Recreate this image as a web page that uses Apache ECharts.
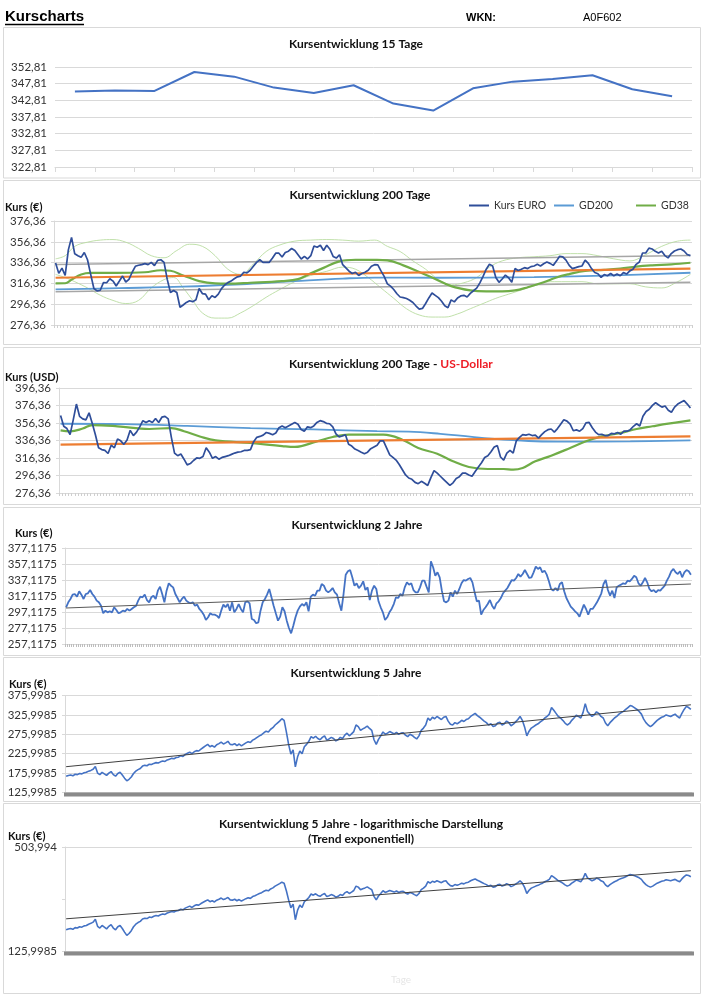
<!DOCTYPE html>
<html><head><meta charset="utf-8">
<script src="https://cdn.jsdelivr.net/npm/echarts@6.0.0/dist/echarts.min.js"></script>
<style>html,body{margin:0;padding:0;background:#fff}#c{width:706px;height:998px}</style>
</head><body><div id="c"></div>
<script>
// ---------- DATA ----------
const p1Price = [345.43,345.73,345.63,351.31,349.92,346.63,345.03,347.33,341.84,339.75,346.43,348.42,349.22,350.32,346.13,344.04];

const p2Price = [336.0,326,331,324,348.6,360.6,344.8,343,341.4,346.1,
339.1,325,311.4,309.2,309.8,317.1,317,320.8,318.6,313.9,
318.6,323.4,317.7,320.2,327.1,332.8,333.8,334.4,335.4,334.4,
336.6,333.5,338.5,339.1,336.6,320.2,307.6,309.5,307.6,293.4,
295.6,298.1,299.7,298.8,300.6,311.4,306.6,306,300.6,304.4,
302.9,306,311.4,314.8,317.1,318.6,320.8,322.7,323.4,327.1,
326.5,329,332.8,336.6,339.1,336.6,336.6,336.6,340.7,345.4,
345.4,341.7,346.1,347.3,349.9,348,343.9,339.8,342.3,339.8,
343,352.4,351.1,353,348,353,349.2,342.3,340.7,343.9,
334.4,331.3,328.1,325.9,327.1,324,325.9,327.1,329,332.8,
334.4,334.1,328.4,323.1,315.9,313.7,310.5,306.4,303.3,302.7,
301.8,300.2,298,294.6,291.7,292.3,297,302.4,307.1,304.9,
302.7,299.2,294.8,293,300.5,298.6,302.4,304.3,304.9,303.3,
306.8,309.3,311.8,316.9,323.1,330,334.7,333.1,322.1,317.4,
320.6,324.3,321.8,317.4,330.6,328.7,330,331.5,330.6,332.5,
333.1,334.7,333.1,335.3,336.9,335.6,333.7,337.8,342.5,341.9,
338.7,333.7,330.6,331.5,332.5,333.1,338.7,335.6,330.6,326.8,
325.6,322.1,324.9,323.7,325.9,323.7,325.3,323.7,326.8,325.3,
328.4,330,334.7,336.9,345.6,345.6,350.3,349.4,347.2,345.6,
347.2,343.1,340.9,345,347.5,348.8,349.4,347.5,344.1,343.1];
const p2Gd200 = [[0,310.6],[20,311.8],[40,313.2],[60,315.8],[75,318.5],[90,321],[100,322],[120,321.8],[150,322.4],[175,324],[199,326.6]];
const p2Gd38 = [[0,316.4],[3,316.5],[5,320],[8,325],[11,326.5],[19,326.5],[28,327.1],[33,329],[36,328.5],[40,324],[45,318.6],[50,316.4],[54,316.2],[61,317],[71,318.6],[76,320.5],[80,326],[84,331.3],[89,337.6],[94,339.1],[100,339],[104,338.5],[109,333.7],[114,327.4],[119,320.6],[124,313.7],[130,309.6],[135,308.6],[140,308.6],[144,309.6],[148,312.7],[153,317.4],[157,322.1],[161,325.3],[166,328.4],[172,329.4],[177,330.6],[182,332.5],[187,333.7],[193,334.7],[199,336.2]];
const p2BandUp = [[0,340],[3,343],[6,352],[10,356],[14,358],[18,358.5],[22,356],[26,350],[30,343],[34,341],[38,348],[42,354],[46,352],[50,343],[54,330],[58,325],[62,335],[66,347],[70,353],[75,357],[80,358],[85,358.5],[90,358],[95,357],[100,358],[104,352],[108,347],[112,338],[116,330],[120,320],[124,315],[128,317],[132,322],[136,332],[140,338],[145,341],[150,342],[155,343],[160,345],[165,345],[170,343],[175,340],[180,338],[185,344],[190,352],[195,357],[199,358]];
const p2BandLow = [[0,325],[3,322],[6,318],[10,312],[14,305],[18,300],[22,297],[26,300],[30,312],[34,320],[37,322],[40,312],[43,300],[46,288],[50,283],[54,283],[58,288],[62,295],[66,303],[70,310],[75,318],[80,324],[85,328],[90,332],[94,330],[98,322],[102,312],[106,302],[110,292],[114,286],[118,284],[122,284],[126,287],[130,292],[134,297],[138,302],[142,306],[146,310],[150,314],[155,318],[160,318],[165,318],[170,316],[175,316],[180,316],[185,313],[190,312],[195,318],[199,325]];
const p2TrendOrange = [[0,321.8],[199,330.6]];
const p2TrendUpper = [[0,334.5],[199,343.2]];
const p2TrendLower = [[0,308.3],[199,317.4]];

const p3Price = [365,352.6,350,343,360,378,364,361,360,368,
356,343,328,326,325,321.5,331,328,338,336,
332,337,348,342,346,352,359,357,359,357,
361.5,357,363,364,361,340,322,319,321,315,
308.5,310,313.5,316.4,316,318,328,323,316,318,
315,317,318,319,320.5,322,323,323.5,325,325,
326,335,340,341,342.5,345.5,344.5,343,345,351,
353,351,353,355,357,355,349,347,352,351,
353,357,359,358,356,355.5,352,344,340.5,341.5,
343,332,330,326.6,325,323,321.3,323,327,329,
331,336,336,328,320,317,314,309,303,297,
293.5,292,288.5,287,289.7,287.5,285,294,302,299,
295.5,292,288.5,285,288,293,295,299,299,297,
295.5,301,306,311,317,319,323.5,329,330.5,317.5,
314,322,325,322,336,340,343,342.5,343.5,342,
342.5,339,343,346.5,348.7,349.5,346,350,355,360,
358.5,355,347.5,348.5,347,350,356.5,357,351,346,
343,343.5,342,342,344.5,344,345.5,343.5,347,347,
348.7,352.6,355.5,353,364,369.5,372,376.5,379.5,377,
374.5,375.8,371,368.6,374.5,378,380,382,378,373.5];
const p3Gd200 = [[0,355.5],[20,355],[40,353],[60,350.5],[80,349],[100,347],[110,346.5],[120,344],[130,340.5],[140,337.5],[150,335.5],[160,335],[180,335.3],[199,336.5]];
const p3Gd38 = [[0,348],[3,346.8],[7,350],[10,354],[18,352.6],[28,349.5],[35,350.6],[39,347],[44,341],[49,336.5],[60,333.5],[70,330],[74,329],[81,335.4],[86,340.4],[91,343],[99,343],[102,343],[108,337.3],[113,327.8],[119,321.3],[124,312.6],[129,306.1],[135,303.8],[140,303.8],[143,303],[146,305],[150,312.6],[155,319],[161,327.8],[166,335.4],[171,341],[177,345],[182,349.5],[187,352.6],[192,355.6],[199,359.4]];
const p3TrendOrange = [[0,331.6],[199,341.1]];

const p4Price = [303.0,309.2,313.4,318.8,319.6,316.3,323.0,318.8,313.4,319.6,
320.5,324.6,319.6,316.3,311.3,309.2,305.0,295.5,298.8,296.7,
298.0,296.7,303.0,299.6,295.5,296.7,298.8,298.0,300.9,298.8,
300.9,303.0,304.6,311.3,316.3,315.5,318.8,312.1,309.2,315.5,
317.5,313.4,323.8,328.8,319.6,309.2,323.8,333.0,330.0,327.9,
319.6,314.6,309.2,313.4,316.3,311.3,309.2,308.0,309.2,305.0,
306.3,300.9,298.0,293.8,287.1,290.5,295.5,293.8,293.8,292.5,
289.6,298.8,306.3,303.0,307.1,298.8,309.2,296.7,300.9,307.1,
300.9,296.7,309.2,310.5,308.0,288.4,287.1,283.0,284.2,298.8,
309.2,313.4,318.8,325.9,315.5,305.0,295.5,286.3,291.3,303.0,
298.0,286.3,277.1,270.5,280.0,290.5,298.8,303.8,307.1,305.0,
309.2,298.0,316.3,318.8,317.5,323.8,323.8,332.1,330.0,323.8,
321.7,323.8,327.1,321.7,318.8,308.0,298.8,319.6,343.8,348.0,
349.6,340.5,330.0,333.0,327.1,330.0,335.5,324.6,327.9,312.1,
323.8,330.0,325.9,310.5,
303.0,296.7,287.1,290.5,296.7,300.9,307.1,315.5,314.6,319.6,
317.5,327.9,334.2,331.3,333.0,324.6,321.7,321.7,327.9,336.3,
336.3,328.8,321.7,360.5,353.0,342.5,346.7,340.5,323.8,310.5,
309.2,311.3,321.7,316.3,323.8,319.6,325.9,333.0,337.1,336.3,
338.4,339.6,334.2,321.7,310.5,311.3,293.8,299.6,303.0,307.1,
312.1,305.0,300.9,308.0,310.5,314.6,320.5,323.8,327.1,332.1,
337.1,336.3,339.6,344.6,341.3,344.6,349.6,344.6,339.6,340.5,
346.7,353.8,350.9,353.0,346.7,348.8,343.8,335.5,325.9,323.8,
327.1,323.8,332.1,334.2,323.0,314.6,309.2,303.8,300.9,298.0,
295.5,291.3,298.8,306.3,300.9,293.8,300.9,300.9,305.0,309.2,
314.6,320.5,332.1,337.1,324.6,317.5,323.8,314.6,327.9,330.0,
331.3,333.0,332.1,336.3,335.5,338.4,342.5,340.5,333.0,330.0,
334.2,339.6,334.2,325.9,323.0,324.6,321.7,324.6,323.8,327.1,
330.0,336.3,341.3,348.0,350.9,346.7,344.6,348.0,340.5,346.7,
349.6,348.0,343.8];
const p4TrendEnds = [302.1, 332.1];

const p5Price = [168,170,171,169,173,172,175,174,177,178,
181,183,186,193,176,172,178,174,170,176,
180,172,168,175,178,171,163,156,160,166,
175,181,185,188,194,196,195,199,198,201,
203,202,205,207,206,210,212,214,213,216,
217,221,219,224,227,230,226,231,234,233,
238,242,246,250,244,247,243,249,252,256,
251,254,258,250,249,252,247,251,246,250,
254,257,255,261,264,268,272,275,280,284,
282,289,293,300,305,310,316,312,282,250,
225,236,192,218,233,226,244,250,258,270,
266,271,265,262,268,272,261,264,268,265,
259,262,268,265,274,279,272,277,283,300,
296,286,290,293,297,291,286,262,250,263,
272,282,276,279,283,280,277,281,276,279,
280,274,270,276,273,268,264,272,286,292,
300,318,312,320,316,322,318,314,320,322,
310,302,300,306,303,307,312,309,314,316,
322,326,330,324,320,315,310,306,300,303,
296,298,305,307,300,303,310,306,298,302,
308,314,322,312,295,272,284,292,296,300,
303,308,312,318,322,328,345,338,330,322,
318,312,305,300,304,312,318,325,322,318,
332,355,335,328,322,326,334,330,322,318,
305,298,306,312,318,322,328,332,335,340,
345,350,348,344,340,335,328,315,306,300,
296,300,306,312,316,320,322,326,324,322,
325,328,322,318,330,340,348,345,340];
const p5TrendEnds = [192.5, 352];
const p6TrendEnds = [194.4, 368];

// tick values / labels
const p1Ticks = [322.81,327.81,332.81,337.81,342.81,347.81,352.81];
const p1Labels = ['322,81','327,81','332,81','337,81','342,81','347,81','352,81'];
const p2Ticks = [276.36,296.36,316.36,336.36,356.36,376.36];
const p2Labels = ['276,36','296,36','316,36','336,36','356,36','376,36'];
const p3Ticks = [276.36,296.36,316.36,336.36,356.36,376.36,396.36];
const p3Labels = ['276,36','296,36','316,36','336,36','356,36','376,36','396,36'];
const p4Ticks = [257.1175,277.1175,297.1175,317.1175,337.1175,357.1175,377.1175];
const p4Labels = ['257,1175','277,1175','297,1175','317,1175','337,1175','357,1175','377,1175'];
const p5Ticks = [125.9985,175.9985,225.9985,275.9985,325.9985,375.9985];
const p5Labels = ['125,9985','175,9985','225,9985','275,9985','325,9985','375,9985'];
const p6Ticks = [125.9985,251.997,503.994];
const p6Labels = ['125,9985','','503,994'];

const legendNames = ['Kurs EURO','GD200','GD38'];

// ---------- CHART ----------
const FONT = 'Lato, "Open Sans", sans-serif';
const ARIAL = '"Liberation Sans", Arial, sans-serif';
const GRID = '#D9D9D9';

function cats(n){ return Array.from({length:n}, (_, i) => 'T' + (i + 1)); }
function fmt(ticks, labels){
  return function(v){
    for (let j = 0; j < ticks.length; j++) { if (Math.abs(ticks[j] - v) < 0.02) return labels[j]; }
    return '';
  };
}
function ends(arr, n){ return [[0, arr[0]], [n - 1, arr[1]]]; }

const grids = [
  {left:55, width:637, top:67, height:100},
  {left:54, width:638, top:221, height:104},
  {left:59, width:633, top:388, height:105},
  {left:65, width:627, top:548, height:96},
  {left:65, width:627, top:695.5, height:97},
  {left:65, width:627, top:847, height:104.5}
];

function xAx(gi, n, tickLen, tickColor, tickW){
  return {type:'category', gridIndex:gi, data:cats(n), boundaryGap:true,
    axisLine:{show:true, lineStyle:{color:GRID, width:1}},
    axisTick:{show:true, interval:0, length:tickLen, lineStyle:{color:tickColor, width:tickW || 1}},
    axisLabel:{show:false}, splitLine:{show:false}};
}
const LBL = {color:'#333', fontFamily:FONT, fontSize:11.5, margin:8, showMinLabel:true, showMaxLabel:true};
function yAx(gi, min, max, ticks, labels, showLine){
  return {type:'value', gridIndex:gi, min:min, max:max,
    axisLine:{show:showLine, lineStyle:{color:GRID}},
    axisTick:{show:showLine, length:3, customValues:ticks, lineStyle:{color:GRID}},
    axisLabel:Object.assign({customValues:ticks, formatter:fmt(ticks, labels)}, LBL),
    splitLine:{show:true, lineStyle:{color:GRID, width:1}}};
}

const xAxes = [
  xAx(0, p1Price.length, 5, GRID),
  xAx(1, p2Price.length, 3, '#CFCFCF'),
  xAx(2, p3Price.length, 3, '#CFCFCF'),
  xAx(3, p4Price.length, 3, '#BDBDBD'),
  xAx(4, p5Price.length, 4, '#8A8A8A', 3),
  xAx(5, p5Price.length, 4, '#8A8A8A', 3)
];
const yAxes = [
  yAx(0, 322.81, 352.81, p1Ticks, p1Labels, false),
  yAx(1, 276.36, 376.36, p2Ticks, p2Labels, true),
  yAx(2, 276.36, 396.36, p3Ticks, p3Labels, true),
  yAx(3, 257.1175, 377.1175, p4Ticks, p4Labels, true),
  yAx(4, 125.9985, 375.9985, p5Ticks, p5Labels, true),
  {type:'log', logBase:2, gridIndex:5, min:125.9985, max:503.994, interval:1,
    axisLine:{show:true, lineStyle:{color:GRID}},
    axisTick:{show:true, length:3, lineStyle:{color:GRID}},
    axisLabel:Object.assign({formatter:fmt(p6Ticks, p6Labels)}, LBL),
    splitLine:{show:false}}
];

function line(gi, name, data, color, width, extra){
  return Object.assign({type:'line', name:name, xAxisIndex:gi, yAxisIndex:gi, data:data,
    symbol:'none', showSymbol:false, animation:false, silent:true,
    lineStyle:{color:color, width:width}, itemStyle:{color:color}}, extra || {});
}

const BAND = '#B9DCA0';
const series = [
  line(0, 'p1', p1Price, '#4472C4', 2),

  line(1, 'bandUp', p2BandUp, BAND, 0.9, {smooth:0.4, z:1}),
  line(1, 'bandLow', p2BandLow, BAND, 0.9, {smooth:0.4, z:1}),
  line(1, 'trendUp', p2TrendUpper, '#A6A6A6', 1.5, {z:2}),
  line(1, 'trendLow', p2TrendLower, '#A6A6A6', 1.5, {z:2}),
  line(1, 'GD200', p2Gd200, '#5B9BD5', 1.8, {smooth:0.4, z:3}),
  line(1, 'GD38', p2Gd38, '#70AD47', 2.2, {smooth:0.4, z:3}),
  line(1, 'trendOrange', p2TrendOrange, '#ED7D31', 2.2, {z:4}),
  line(1, 'Kurs EURO', p2Price, '#2F4E9A', 1.7, {z:5}),

  line(2, 'GD200 USD', p3Gd200, '#5B9BD5', 1.8, {smooth:0.4, z:3}),
  line(2, 'GD38 USD', p3Gd38, '#70AD47', 2.2, {smooth:0.4, z:3}),
  line(2, 'trendOrange USD', p3TrendOrange, '#ED7D31', 2.2, {z:4}),
  line(2, 'Kurs USD', p3Price, '#2F4E9A', 1.7, {z:5}),

  line(3, 'p4', p4Price, '#4472C4', 1.8, {z:3}),
  line(3, 'p4trend', ends(p4TrendEnds, p4Price.length), '#595959', 1, {z:4}),

  line(4, 'p5', p5Price, '#4472C4', 1.6, {z:3}),
  line(4, 'p5trend', ends(p5TrendEnds, p5Price.length), '#404040', 1, {z:4}),

  line(5, 'p6', p5Price, '#4472C4', 1.6, {z:3,
    markLine:{silent:true, symbol:'none', label:{show:false}, animation:false,
      lineStyle:{color:GRID, type:'solid', width:1}, data:[{yAxis:p6Ticks[2]}]}}),
  line(5, 'p6trend', ends(p6TrendEnds, p5Price.length), '#404040', 1, {z:4})
];

function legendAt(name, left){
  return {data:[name], left:left, top:195, icon:'rect', itemWidth:20, itemHeight:2,
    textStyle:{fontFamily:FONT, fontSize:10.5, color:'#333'}, selectedMode:false};
}

function txt(x, y, text, size, weight, color, align, family){
  return {type:'text', x:x, y:y, silent:true, z:10,
    style:{text:text, fontSize:size, fontWeight:weight, fill:color, align:align || 'left',
      verticalAlign:'middle', fontFamily:family || FONT}};
}
function frame(y1, y2){
  return {type:'rect', silent:true, z:0, shape:{x:3.5, y:y1, width:697, height:y2 - y1},
    style:{fill:'none', stroke:GRID, lineWidth:1}};
}

const TT = '#111';
const TS = 12;
const graphic = [
  frame(27.5, 178), frame(180.5, 344.5), frame(347.5, 504.5), frame(507.5, 655.5), frame(657.5, 801.5), frame(803.5, 993.5),
  txt(5, 17, 'Kurscharts', 15, 'bold', '#000', 'left', ARIAL),
  {type:'line', silent:true, shape:{x1:5, y1:24.5, x2:84, y2:24.5}, style:{stroke:'#000', lineWidth:1.3}},
  txt(466, 18, 'WKN:', 11, 'bold', '#000', 'left', ARIAL),
  txt(583, 18, 'A0F602', 11, 'normal', '#000', 'left', ARIAL),
  txt(356, 44, 'Kursentwicklung 15 Tage', TS, 'bold', TT, 'center'),
  txt(360, 195, 'Kursentwicklung 200 Tage', TS, 'bold', TT, 'center'),
  {type:'text', x:289, y:364, silent:true, z:10, style:{text:'{a|Kursentwicklung 200 Tage - }{b|US-Dollar}',
    verticalAlign:'middle', rich:{a:{fontFamily:FONT, fontSize:TS, fontWeight:'bold', fill:TT, color:TT},
      b:{fontFamily:FONT, fontSize:TS, fontWeight:'bold', fill:'#EE1C25', color:'#EE1C25'}}}},
  txt(357, 525, 'Kursentwicklung 2 Jahre', TS, 'bold', TT, 'center'),
  txt(356, 673, 'Kursentwicklung 5 Jahre', TS, 'bold', TT, 'center'),
  txt(361, 824, 'Kursentwicklung 5 Jahre - logarithmische Darstellung', TS, 'bold', TT, 'center'),
  txt(361, 839, '(Trend exponentiell)', TS, 'bold', TT, 'center'),
  txt(5, 207, 'Kurs (€)', 11, 'bold', TT),
  txt(5, 377, 'Kurs (USD)', 11, 'bold', TT),
  txt(15, 533, 'Kurs (€)', 11, 'bold', TT),
  txt(9, 684, 'Kurs (€)', 11, 'bold', TT),
  txt(8, 836, 'Kurs (€)', 11, 'bold', TT),
  txt(401, 980, 'Tage', 10, 'normal', '#E6E6E6', 'center')
];

const chart = echarts.init(document.getElementById('c'), null, {renderer:'canvas'});
chart.setOption({
  animation:false,
  backgroundColor:'#fff',
  grid:grids,
  xAxis:xAxes,
  yAxis:yAxes,
  legend:[legendAt('Kurs EURO', 464), legendAt('GD200', 549), legendAt('GD38', 631)],
  series:series,
  graphic:graphic
});
</script></body></html>
